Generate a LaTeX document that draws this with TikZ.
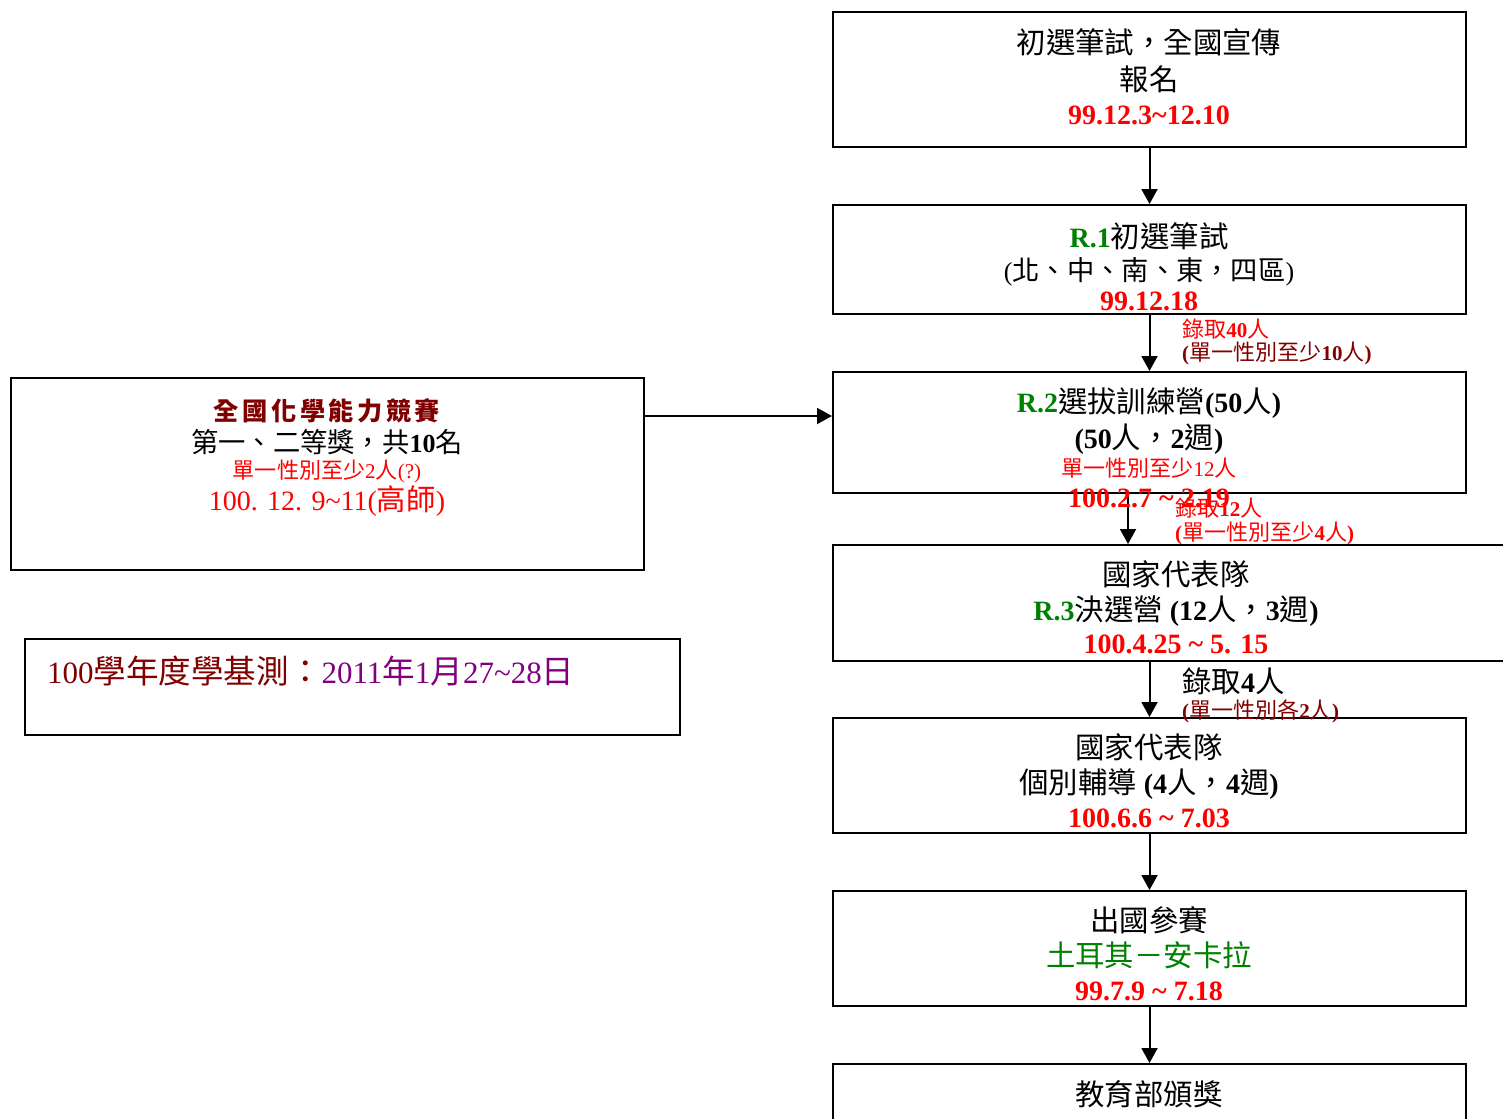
\documentclass[tikz,border=0pt]{standalone}
\usepackage{fontspec}
\setmainfont{Liberation Serif}
\newfontfamily\cjk{Noto Sans CJK TC}[Scale=1.05]
\usetikzlibrary{arrows.meta}
\newcommand{\C}[1]{{\cjk\mdseries #1}}
\newcommand{\CB}[1]{{\cjk\bfseries #1}}
\newcommand{\tld}{\textasciitilde}
\definecolor{dkred}{RGB}{128,0,0}
\definecolor{dkgreen}{RGB}{0,128,0}
\definecolor{purp}{RGB}{128,0,128}
\definecolor{brred}{RGB}{255,0,0}
\tikzset{
  box/.style={draw=black, line width=2pt, inner sep=0pt, fill=none},
  arr/.style={line width=2pt, -{Triangle[width=16pt,length=15pt]}},
  mainline/.style={anchor=base, inner sep=0pt, font=\fontsize{28}{30}\selectfont\bfseries},
  smallline/.style={anchor=base, inner sep=0pt, font=\fontsize{21}{23}\selectfont\bfseries},
}
\begin{document}
\begin{tikzpicture}[x=1pt,y=-1pt]
\useasboundingbox (0,0) rectangle (1503,1118);
% boxes
\node[box, minimum width=633, minimum height=135] (b1) at (1149.5,79.5) {};
\node[box, minimum width=633, minimum height=109] (b2) at (1149.5,259.5) {};
\node[box, minimum width=633, minimum height=121] (b3) at (1149.5,432.5) {};
\node[box, minimum width=687, minimum height=116] (b4) at (1176.5,603) {};
\node[box, minimum width=633, minimum height=115] (b5) at (1149.5,775.5) {};
\node[box, minimum width=633, minimum height=115] (b6) at (1149.5,948.5) {};
\node[box, minimum width=633, minimum height=76] (b7) at (1149.5,1102) {};
\node[box, minimum width=633, minimum height=192] (la) at (327.5,474) {};
\node[box, minimum width=655, minimum height=96] (lb) at (352.5,687) {};
% connectors
\coordinate (c34) at (1128,500);
\coordinate (ya) at (700,416);
\draw[arr] (b1.south) -- (b2.north);
\draw[arr] (b2.south) -- (b3.north);
\draw[arr] (b3.south -| c34) -- (b4.north -| c34);
\draw[arr] (b4.south -| b5.north) -- (b5.north);
\draw[arr] (b5.south) -- (b6.north);
\draw[arr] (b6.south) -- (b7.north);
\draw[arr] (la.east |- ya) -- (b3.west |- ya);
% box 1
\node[mainline] (t1a) at (1149,54) {\C{初選筆試，全國宣傳}};
\node[mainline] (t1b) at (1149,91) {\C{報名}};
\node[mainline, text=brred] (t1c) at (1149,125) {99.12.3\tld12.10};
% box 2
\node[mainline] (t2a) at (1149,247) {{\color{dkgreen}R.1}\C{初選筆試}};
\node[mainline, font=\fontsize{26}{28}\selectfont\bfseries] (t2b) at (1149,280) {{\mdseries(}\C{北、中、南、東，四區}{\mdseries)}};
\node[mainline, text=brred] (t2c) at (1149,310) {99.12.18};
\node[smallline, anchor=base west, text=brred] (l2a) at (1182,337) {\C{錄取}40\C{人}};
\node[smallline, anchor=base west, text=dkred] (l2b) at (1182,360) {(\C{單一性別至少}10\C{人})};
% box 3
\node[mainline] (t3a) at (1149,412) {{\color{dkgreen}R.2}\C{選拔訓練營}(50\C{人})};
\node[mainline] (t3b) at (1149,448) {(50\C{人，}2\C{週})};
\node[smallline, text=brred, font=\fontsize{21}{23}\selectfont\mdseries] (t3c) at (1149,476) {\C{單一性別至少}12\C{人}};
\node[mainline, text=brred] (t3d) at (1149,507) {100.2.7 \tld{} 2.19};
\node[smallline, anchor=base west, text=brred] (l3a) at (1175,516) {\C{錄取}12\C{人}};
\node[smallline, anchor=base west, text=brred] (l3b) at (1175,540) {(\C{單一性別至少}4\C{人})};
% box 4
\node[mainline] (t4a) at (1176,585) {\C{國家代表隊}};
\node[mainline] (t4b) at (1176,620) {{\color{dkgreen}R.3}\C{決選營} (12\C{人，}3\C{週})};
\node[mainline, text=brred] (t4c) at (1176,653) {100.4.25 \tld{} 5. 15};
\node[mainline, anchor=base west] (l4a) at (1182,692) {\C{錄取}4\C{人}};
\node[smallline, anchor=base west, text=dkred] (l4b) at (1182,718) {(\C{單一性別各}2\C{人})};
% box 5
\node[mainline] (t5a) at (1149,758) {\C{國家代表隊}};
\node[mainline] (t5b) at (1149,793) {\C{個別輔導} (4\C{人，}4\C{週})};
\node[mainline, text=brred] (t5c) at (1149,827) {100.6.6 \tld{} 7.03};
% box 6
\node[mainline] (t6a) at (1149,931) {\C{出國參賽}};
\node[mainline, text=dkgreen] (t6b) at (1149,966) {\C{土耳其－安卡拉}};
\node[mainline, text=brred] (t6c) at (1149,1000) {99.7.9 \tld{} 7.18};
% box 7
\node[mainline] (t7a) at (1149,1105) {\C{教育部頒獎}};
% left box A
\node[mainline, text=dkred, font=\fontsize{24}{26}\selectfont] (tAa) at (327,420) {\CB{全\hspace{3.5pt}國\hspace{3.5pt}化\hspace{3.5pt}學\hspace{3.5pt}能\hspace{3.5pt}力\hspace{3.5pt}競\hspace{3.5pt}賽}};
\node[mainline, font=\fontsize{26}{28}\selectfont\bfseries] (tAb) at (327,452) {\C{第一、二等獎，共}10\C{名}};
\node[smallline, text=brred, font=\fontsize{21}{23}\selectfont\mdseries] (tAc) at (327,478) {\C{單一性別至少}2\C{人}(?)};
\node[mainline, text=brred, font=\fontsize{28}{30}\selectfont\mdseries] (tAd) at (327,510) {100. 12. 9\tld11(\C{高師})};
% left box B
\node[anchor=base west, inner sep=0pt, font=\fontsize{31}{33}\selectfont] (tBa) at (47,683) {{\color{dkred}100\C{學年度學基測：}}{\color{purp}2011\C{年}1\C{月}27\tld28\C{日}}};
\end{tikzpicture}
\end{document}
